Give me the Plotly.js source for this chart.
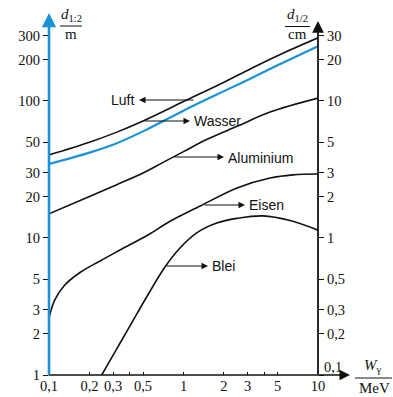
<!DOCTYPE html>
<html>
<head>
<meta charset="utf-8">
<script src="https://cdn.plot.ly/plotly-3.0.1.min.js"></script>
<style>html,body{margin:0;padding:0;background:#fff;}#chart{width:393px;height:397px;}</style>
</head>
<body>
<div id="chart"></div>
<script>
// ---- data (energies in MeV, half-value thickness on the left-axis scale) ----
const luftE   = [0.1, 0.2, 0.316, 0.5, 1, 2, 3.16, 5, 10];
const luftV   = [40.4, 50, 59, 71.5, 99, 137, 172, 214, 289];
const wasserE = [0.1, 0.2, 0.316, 0.5, 1, 2, 3.16, 5, 10];
const wasserV = [34.7, 42, 49, 60, 85, 118, 146, 182, 251];
const aluE    = [0.1, 0.2, 0.316, 0.5, 0.7, 1, 1.5, 2.5, 4.4, 10];
const aluV    = [15, 20.1, 24.4, 29.8, 35.5, 42.7, 52.5, 65.3, 83, 105];
const eisenE  = [0.1, 0.11, 0.13, 0.17, 0.24, 0.34, 0.56, 0.79, 1.33, 2.5, 4.4, 6.5, 10];
const eisenV  = [2.6, 3.5, 4.5, 5.6, 6.8, 8.2, 10.7, 13.2, 17.1, 23.2, 27.4, 28.9, 29.3];
const bleiE   = [0.2466, 0.315, 0.4, 0.532, 0.728, 0.942, 1.253, 1.767, 2.5, 3.9, 6.2, 10];
const bleiV   = [1, 1.52, 2.28, 3.71, 6.14, 8.45, 10.9, 12.86, 13.9, 14.5, 13.4, 11.4];

const xTickVals  = [0.1, 0.2, 0.3, 0.4, 0.5, 1, 2, 3, 4, 5, 10];
const xTickText  = ['0,1', '0,2', '0,3', '', '0,5', '1', '2', '3', '', '5', '10'];
const yTickVals  = [1, 2, 3, 5, 10, 20, 30, 50, 100, 200, 300];
const yTickText  = ['1', '2', '3', '5', '10', '20', '30', '50', '100', '200', '300'];
const y2TickVals = [0.1, 0.2, 0.3, 0.5, 1, 2, 3, 5, 10, 20, 30];
const y2TickText = ['', '0,2', '0,3', '0,5', '1', '2', '3', '5', '10', '20', '30'];

const BLUE = '#1a93d6';
const L = 49, T = 20, W = 269, H = 355;
const px = p => (p - L) / W;
const py = p => (T + H - p) / H;

function curve(x, y, color, width) {
  return {x: x, y: y, type: 'scatter', mode: 'lines', xaxis: 'x', yaxis: 'y',
          line: {color: color, width: width, shape: 'spline', smoothing: 1},
          hoverinfo: 'skip', showlegend: false};
}
const traces = [
  curve(luftE, luftV, '#111', 1.6),
  curve(wasserE, wasserV, BLUE, 2.2),
  curve(aluE, aluV, '#111', 1.6),
  curve(eisenE, eisenV, '#111', 1.6),
  curve(bleiE, bleiV, '#111', 1.6),
  {x: [1], y: [1], type: 'scatter', mode: 'markers', yaxis: 'y2', marker: {opacity: 0}, hoverinfo: 'skip', showlegend: false}
];

const tickFont = {family: 'Liberation Serif, Times New Roman, serif', size: 14.5, color: '#111'};
const lblFont = {family: 'Liberation Sans, Arial, sans-serif', size: 14, color: '#111'};

function arrow(x1, y1, x2, y2, color, width, size) {
  // tail (x1,y1) -> head (x2,y2), pixel coords
  return {xref: 'paper', yref: 'paper', x: px(x2), y: py(y2), ax: x1 - x2, ay: y1 - y2,
          axref: 'pixel', ayref: 'pixel', text: '', showarrow: true,
          arrowhead: 2, arrowsize: size, arrowwidth: width, arrowcolor: color};
}
function label(text, x, y, anchor, font) {
  return {xref: 'paper', yref: 'paper', x: px(x), y: py(y), text: text, showarrow: false,
          xanchor: anchor, yanchor: 'middle', font: font || lblFont};
}
const serif15 = {family: 'Liberation Serif, Times New Roman, serif', size: 15, color: '#111'};

const annotations = [
  arrow(49, 376, 49, 13, BLUE, 2.6, 1.1),
  arrow(318, 376, 318, 21, '#111', 1.8, 1.3),
  arrow(47, 375, 350, 375, '#111', 1.5, 1.4),
  arrow(195, 100, 139, 100, '#111', 1, 1.3),
  arrow(143, 121, 190, 121, '#111', 1, 1.3),
  arrow(173, 157, 224, 157, '#111', 1, 1.3),
  arrow(203, 205, 245, 205, '#111', 1, 1.3),
  arrow(165, 266, 208, 266, '#111', 1, 1.3),
  label('Luft', 136, 100, 'right'),
  label('Wasser', 192, 121, 'left'),
  label('Aluminium', 226, 158, 'left'),
  label('Eisen', 247, 205, 'left'),
  label('Blei', 210, 266, 'left'),
  label('0,1', 322, 367, 'left', tickFont),
  label('<i>d</i><sub>1:2</sub>', 71, 15, 'center', serif15),
  label('m', 71, 34, 'center', serif15),
  label('<i>d</i><sub>1/2</sub>', 297, 15, 'center', serif15),
  label('cm', 297, 34, 'center', serif15),
  label('<i>W</i><sub>γ</sub>', 373, 366, 'center', serif15),
  label('MeV', 374, 388, 'center', serif15)
];

const shapes = [
  {type: 'line', xref: 'paper', yref: 'paper', x0: px(60), x1: px(82), y0: py(26), y1: py(26), line: {color: '#111', width: 1}},
  {type: 'line', xref: 'paper', yref: 'paper', x0: px(285), x1: px(310), y0: py(26.5), y1: py(26.5), line: {color: '#111', width: 1}},
  {type: 'line', xref: 'paper', yref: 'paper', x0: px(355), x1: px(392), y0: py(378), y1: py(378), line: {color: '#111', width: 1}}
];

const layout = {
  width: 393, height: 397,
  margin: {l: L, r: 393 - L - W, t: T, b: 397 - T - H, pad: 0},
  paper_bgcolor: '#fff', plot_bgcolor: '#fff',
  showlegend: false,
  xaxis: {type: 'log', range: [-1, 1], tickvals: xTickVals, ticktext: xTickText,
          ticks: 'inside', ticklen: 3, tickcolor: '#111', tickfont: tickFont,
          showgrid: false, zeroline: false, showline: false, fixedrange: true},
  yaxis: {type: 'log', range: [0, 2.591], tickvals: yTickVals, ticktext: yTickText,
          ticks: 'outside', ticklen: 5, tickcolor: '#111', tickfont: tickFont,
          showgrid: false, zeroline: false, showline: false, fixedrange: true},
  yaxis2: {type: 'log', range: [-1, 1.591], overlaying: 'y', side: 'right',
           tickvals: y2TickVals, ticktext: y2TickText,
           ticks: 'outside', ticklen: 5, tickcolor: '#111', tickfont: tickFont,
           showgrid: false, zeroline: false, showline: false, fixedrange: true},
  annotations: annotations,
  shapes: shapes
};

Plotly.newPlot('chart', traces, layout, {displayModeBar: false, staticPlot: true});
</script>
</body>
</html>
